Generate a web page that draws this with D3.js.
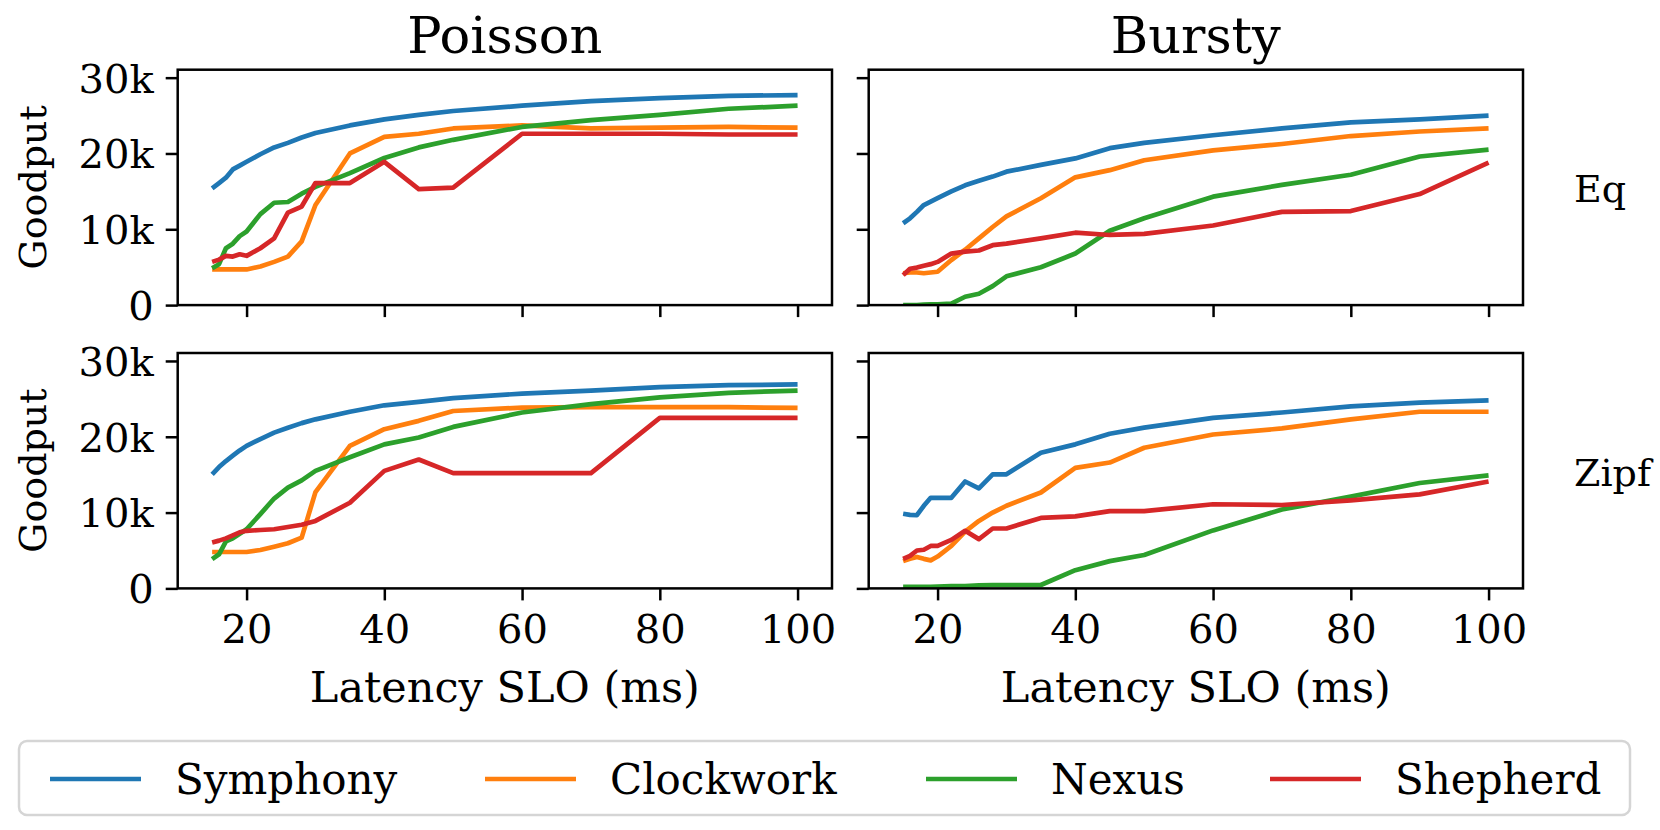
<!DOCTYPE html>
<html>
<head>
<meta charset="utf-8">
<script src="https://cdn.jsdelivr.net/npm/d3@7"></script>
<style>
  body { margin: 0; background: #fff; }
  text { font-family: 'DejaVu Serif', serif; fill: #000; }
</style>
</head>
<body>
<div id="chart"></div>
<script>
// latency SLO grid (ms)
const slo = [15, 16, 17, 18, 19, 20, 22, 24, 26, 28, 30, 35, 40, 45, 50, 60, 70, 80, 90, 100]

const systems = ['Symphony', 'Clockwork', 'Nexus', 'Shepherd']
const colors  = ['#1f77b4', '#ff7f0e', '#2ca02c', '#d62728']

const columns = ['Poisson', 'Bursty']
const rows    = ['Eq', 'Zipf']
const yTicks  = [0, 10000, 20000, 30000]
const xTicks  = [20, 40, 60, 80, 100]

// goodput, Poisson arrivals, equal popularity
const poissonEqSymphony  = [15.4, 16.1, 16.8, 17.9, 18.4, 18.9, 19.9, 20.8, 21.4, 22.1, 22.7, 23.7, 24.5, 25.1, 25.6, 26.3, 26.9, 27.3, 27.6, 27.7]
const poissonEqClockwork = [4.7, 4.7, 4.7, 4.7, 4.7, 4.7, 5.1, 5.7, 6.4, 8.4, 13.2, 20.0, 22.2, 22.6, 23.3, 23.7, 23.3, 23.4, 23.5, 23.4]
const poissonEqNexus     = [4.85, 5.4, 7.5, 8.1, 9.1, 9.7, 12.0, 13.5, 13.6, 14.7, 15.6, 17.4, 19.4, 20.8, 21.8, 23.5, 24.4, 25.1, 25.9, 26.3]
const poissonEqShepherd  = [5.7, 6.0, 6.5, 6.4, 6.7, 6.5, 7.5, 8.8, 12.2, 13.0, 16.1, 16.1, 18.9, 15.3, 15.5, 22.6, 22.6, 22.6, 22.5, 22.5]

// goodput, bursty arrivals, equal popularity
const burstyEqSymphony  = [10.8, 11.45, 12.3, 13.2, 13.65, 14.1, 15.0, 15.8, 16.4, 16.95, 17.6, 18.5, 19.35, 20.7, 21.4, 22.4, 23.3, 24.1, 24.5, 25.0]
const burstyEqClockwork = [4.2, 4.3, 4.3, 4.2, 4.3, 4.4, 5.95, 7.3, 8.8, 10.3, 11.7, 14.1, 16.85, 17.8, 19.1, 20.4, 21.25, 22.3, 22.9, 23.3]
const burstyEqNexus     = [0, 0, 0, 0.05, 0.1, 0.1, 0.2, 1.1, 1.5, 2.5, 3.8, 5.0, 6.8, 9.8, 11.45, 14.3, 15.85, 17.2, 19.6, 20.5]
const burstyEqShepherd  = [3.95, 4.8, 4.95, 5.2, 5.4, 5.7, 6.8, 7.05, 7.2, 7.9, 8.1, 8.8, 9.55, 9.25, 9.4, 10.5, 12.3, 12.4, 14.65, 18.8]

// goodput, Poisson arrivals, Zipf popularity
const poissonZipfSymphony  = [15.05, 16.0, 16.8, 17.5, 18.2, 18.8, 19.7, 20.55, 21.2, 21.8, 22.3, 23.3, 24.15, 24.6, 25.1, 25.7, 26.1, 26.55, 26.8, 26.9]
const poissonZipfClockwork = [4.8, 4.8, 4.8, 4.8, 4.8, 4.8, 5.07, 5.5, 5.95, 6.7, 12.7, 18.8, 21.0, 22.1, 23.4, 23.85, 23.9, 23.9, 23.9, 23.8]
const poissonZipfNexus     = [3.85, 4.5, 6.2, 6.6, 7.2, 7.8, 9.8, 11.85, 13.3, 14.25, 15.5, 17.3, 19.0, 19.9, 21.3, 23.2, 24.3, 25.2, 25.8, 26.1]
const poissonZipfShepherd  = [6.05, 6.3, 6.6, 7.0, 7.4, 7.6, 7.7, 7.8, 8.1, 8.4, 8.9, 11.3, 15.5, 17.0, 15.2, 15.2, 15.2, 22.5, 22.5, 22.5]

// goodput, bursty arrivals, Zipf popularity
const burstyZipfSymphony  = [9.85, 9.7, 9.65, 10.9, 11.95, 11.95, 11.95, 14.1, 13.2, 15.05, 15.05, 17.9, 19.0, 20.4, 21.2, 22.5, 23.2, 24.0, 24.5, 24.8]
const burstyZipfClockwork = [3.6, 3.9, 4.15, 3.9, 3.7, 4.2, 5.6, 7.5, 8.9, 10.0, 10.9, 12.65, 15.9, 16.6, 18.55, 20.3, 21.1, 22.3, 23.3, 23.3]
const burstyZipfNexus     = [0.2, 0.2, 0.2, 0.2, 0.2, 0.25, 0.3, 0.3, 0.4, 0.45, 0.45, 0.45, 2.4, 3.6, 4.4, 7.65, 10.4, 12.1, 13.9, 14.9]
const burstyZipfShepherd  = [3.9, 4.3, 5.0, 5.1, 5.6, 5.6, 6.4, 7.6, 6.5, 7.9, 7.9, 9.3, 9.5, 10.2, 10.2, 11.1, 11.0, 11.6, 12.4, 14.1]

const panels = [
  { row: 0, col: 0, series: [poissonEqSymphony, poissonEqClockwork, poissonEqNexus, poissonEqShepherd] },
  { row: 0, col: 1, series: [burstyEqSymphony, burstyEqClockwork, burstyEqNexus, burstyEqShepherd] },
  { row: 1, col: 0, series: [poissonZipfSymphony, poissonZipfClockwork, poissonZipfNexus, poissonZipfShepherd] },
  { row: 1, col: 1, series: [burstyZipfSymphony, burstyZipfClockwork, burstyZipfNexus, burstyZipfShepherd] }
]

const width  = 1660
const height = 830
const colX   = [177.7, 868.7]
const rowY   = [69.7, 353]
const pw     = 654.3
const ph     = 235.4
const tickLen = 12
const fontTick = 40

const svg = d3.select('#chart')
  .append('svg')
  .attr('width', width)
  .attr('height', height)

svg.append('rect')
  .attr('width', width)
  .attr('height', height)
  .attr('fill', '#fff')

const x = d3.scaleLinear().domain([10, 105]).range([0, pw])
const y = d3.scaleLinear().domain([0, 31050]).range([ph, 0])

const kFormat = d => d === 0 ? '0' : (d / 1000) + 'k'

panels.forEach(p => {
  const g = svg.append('g')
    .attr('transform', `translate(${colX[p.col]}, ${rowY[p.row]})`)

  // clip so lines stay inside the frame
  const clipId = `clip-${p.row}-${p.col}`
  g.append('clipPath').attr('id', clipId)
    .append('rect').attr('width', pw).attr('height', ph)

  const line = d3.line()
    .x((d, i) => x(slo[i]))
    .y(d => y(d * 1000))

  g.append('g')
    .attr('clip-path', `url(#${clipId})`)
    .selectAll('path')
    .data(p.series)
    .enter()
    .append('path')
      .attr('d', line)
      .attr('fill', 'none')
      .attr('stroke', (d, i) => colors[i])
      .attr('stroke-width', 4.7)
      .attr('stroke-linejoin', 'round')
      .attr('stroke-linecap', 'butt')

  // y axis ticks
  const yAxis = g.append('g')
    .call(d3.axisLeft(y).tickValues(yTicks).tickSize(tickLen).tickPadding(12)
      .tickFormat(p.col === 0 ? kFormat : ''))
  yAxis.select('.domain').remove()
  yAxis.selectAll('line').attr('stroke', '#000').attr('stroke-width', 2.5)
  yAxis.selectAll('text')
    .style('font-family', "'DejaVu Serif', serif")
    .style('font-size', fontTick + 'px')
    .attr('dy', '0.36em')

  // x axis ticks
  const xAxis = g.append('g')
    .attr('transform', `translate(0, ${ph})`)
    .call(d3.axisBottom(x).tickValues(xTicks).tickSize(tickLen).tickPadding(14)
      .tickFormat(p.row === 1 ? d3.format('d') : ''))
  xAxis.select('.domain').remove()
  xAxis.selectAll('line').attr('stroke', '#000').attr('stroke-width', 2.5)
  xAxis.selectAll('text')
    .style('font-family', "'DejaVu Serif', serif")
    .style('font-size', fontTick + 'px')
    .attr('dy', '0.71em')

  // frame
  g.append('rect')
    .attr('width', pw)
    .attr('height', ph)
    .attr('fill', 'none')
    .attr('stroke', '#000')
    .attr('stroke-width', 2.5)

  if (p.row === 0) {
    g.append('text')
      .attr('x', pw / 2)
      .attr('y', -17)
      .attr('text-anchor', 'middle')
      .attr('font-size', '51px')
      .text(columns[p.col])
  }
  if (p.row === 1) {
    g.append('text')
      .attr('x', pw / 2)
      .attr('y', ph + 114)
      .attr('text-anchor', 'middle')
      .attr('font-size', '43px')
      .text('Latency SLO (ms)')
  }
  if (p.col === 0) {
    g.append('text')
      .attr('transform', `translate(${46 - colX[0]}, ${ph / 2}) rotate(-90)`)
      .attr('text-anchor', 'middle')
      .attr('font-size', '38px')
      .text('Goodput')
  }
  if (p.col === 1) {
    g.append('text')
      .attr('x', 1574 - colX[1])
      .attr('y', ph / 2 + 15)
      .attr('font-size', '38px')
      .text(rows[p.row])
  }
})

// legend
const legendItemX = [50, 485, 926, 1270]
const legendY = 779

svg.append('rect')
  .attr('x', 19)
  .attr('y', 741)
  .attr('width', 1611)
  .attr('height', 74)
  .attr('rx', 8)
  .attr('fill', '#fff')
  .attr('stroke', '#d5d5d5')
  .attr('stroke-width', 2.5)

const legend = svg.append('g')
  .selectAll('g')
  .data(systems)
  .enter()
  .append('g')
  .attr('transform', (d, i) => `translate(${legendItemX[i]}, ${legendY})`)

legend.append('line')
  .attr('x1', 0)
  .attr('x2', 91)
  .attr('stroke', (d, i) => colors[i])
  .attr('stroke-width', 4.7)

legend.append('text')
  .attr('x', 125)
  .attr('dy', '0.36em')
  .attr('font-size', '42px')
  .text(d => d)
</script>
</body>
</html>
